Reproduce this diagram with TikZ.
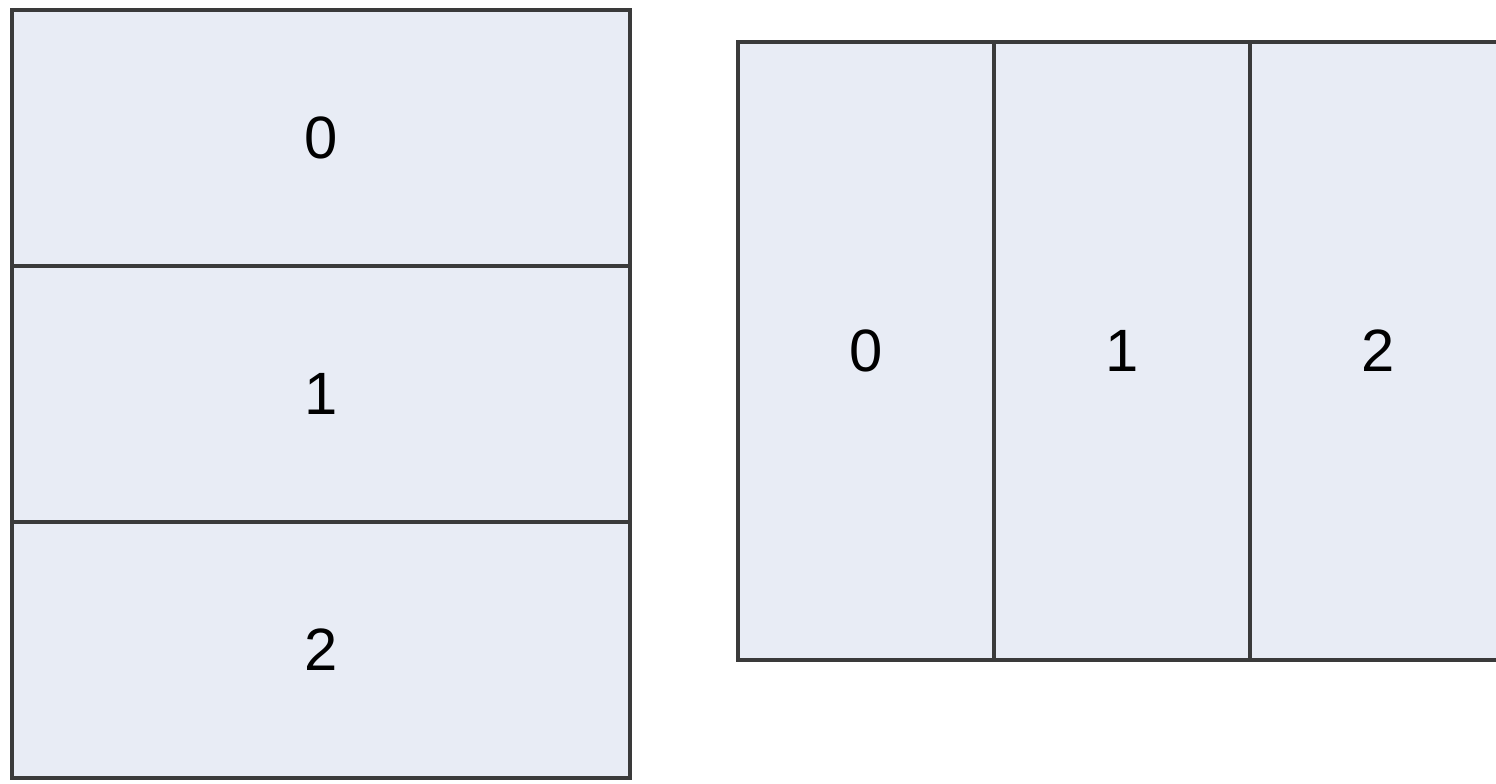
\documentclass[tikz,border=0pt]{standalone}
\usepackage{fontspec}
\setmainfont{Liberation Sans}
\usetikzlibrary{positioning}

\definecolor{cellfill}{HTML}{E8ECF5}
\definecolor{cellline}{HTML}{3A3A3A}

\begin{document}
\begin{tikzpicture}[node distance=0pt]
    \tikzset{
      rowcell/.style = {rectangle, minimum width=12.36cm, minimum height=5.12cm, outer sep=0pt, text centered, draw=cellline, line width=2.3pt, fill=cellfill, font=\fontsize{34}{40}\selectfont},
      colcell/.style = {rowcell, minimum width=5.12cm, minimum height=12.36cm}
    }
    \useasboundingbox (0,0) rectangle (29.92,-15.66);
    \clip (0,0) rectangle (29.92,-15.66);

    % stacked rows
    \node (row0) [rowcell] at (6.42,-2.76) {0};
    \node (row1) [rowcell, below=of row0] {1};
    \node (row2) [rowcell, below=of row1] {2};

    % side by side columns
    \node (col0) [colcell] at (17.32,-7.02) {0};
    \node (col1) [colcell, right=of col0] {1};
    \node (col2) [colcell, right=of col1] {2};
\end{tikzpicture}
\end{document}
